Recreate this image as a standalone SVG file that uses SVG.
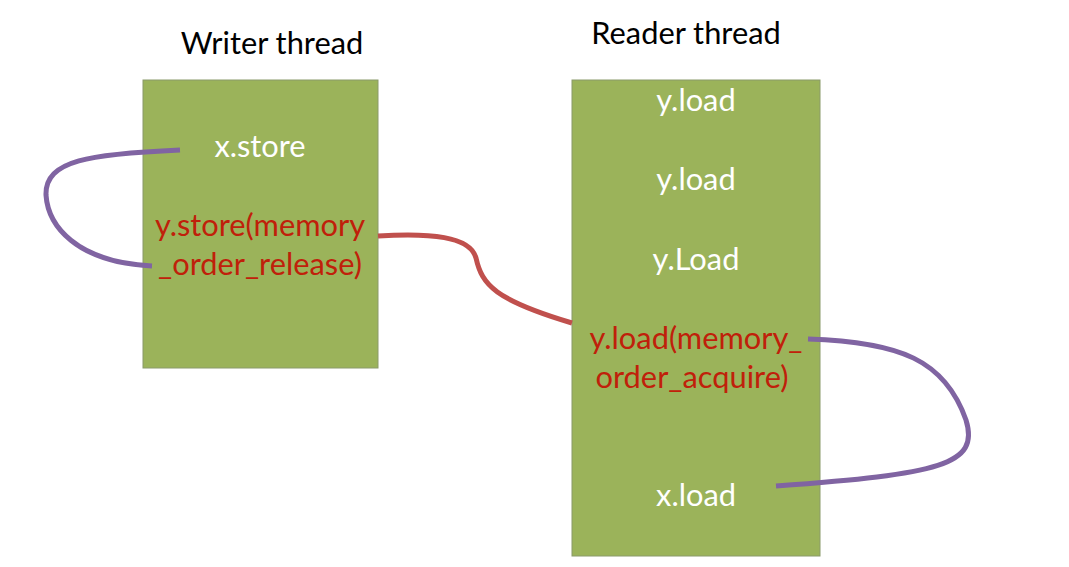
<svg xmlns="http://www.w3.org/2000/svg" width="1069" height="567" viewBox="0 0 1069 567">
<style>
.box{fill:#9BB35A;stroke:#8a9a6a;stroke-width:1}
.t{font-family:Lato,"Open Sans",sans-serif;font-size:30.8px;text-anchor:middle}
.w{fill:#ffffff}
.r{fill:#C0200A}
.k{fill:#000000}
.red{fill:none;stroke:#C0504D;stroke-width:5}
.pur{fill:none;stroke:#8064A2;stroke-width:5}
</style>
<rect width="1069" height="567" fill="#ffffff"/>
<text class="t k" x="272" y="54">Writer thread</text>
<text class="t k" x="686" y="44">Reader thread</text>
<g id="writer">
<rect class="box" x="143" y="80" width="235" height="288"/>
<text class="t w" x="260" y="157">x.store</text>
<text class="t r" x="260" y="236">y.store(memory</text>
<text class="t r" x="260" y="275">_order_release)</text>
</g>
<g id="reader">
<rect class="box" x="572" y="80" width="248" height="476"/>
<text class="t w" x="696" y="111">y.load</text>
<text class="t w" x="696" y="190">y.load</text>
<text class="t w" x="696" y="270">y.Load</text>
<text class="t r" x="696" y="349">y.load(memory_</text>
<text class="t r" x="692" y="388">order_acquire)</text>
<text class="t w" x="696" y="506">x.load</text>
</g>
<g id="connectors">
<path class="red" d="M378,236 C430,233 470,236 476,258 C482,285 495,300 572,323"/>
<path class="pur" d="M180,150 C90,154 45,160 46,195 C48,225 75,262 152,266"/>
<path class="pur" d="M808,339 C900,342 945,360 966,420 C980,465 940,474 776,486"/>
</g>
</svg>
